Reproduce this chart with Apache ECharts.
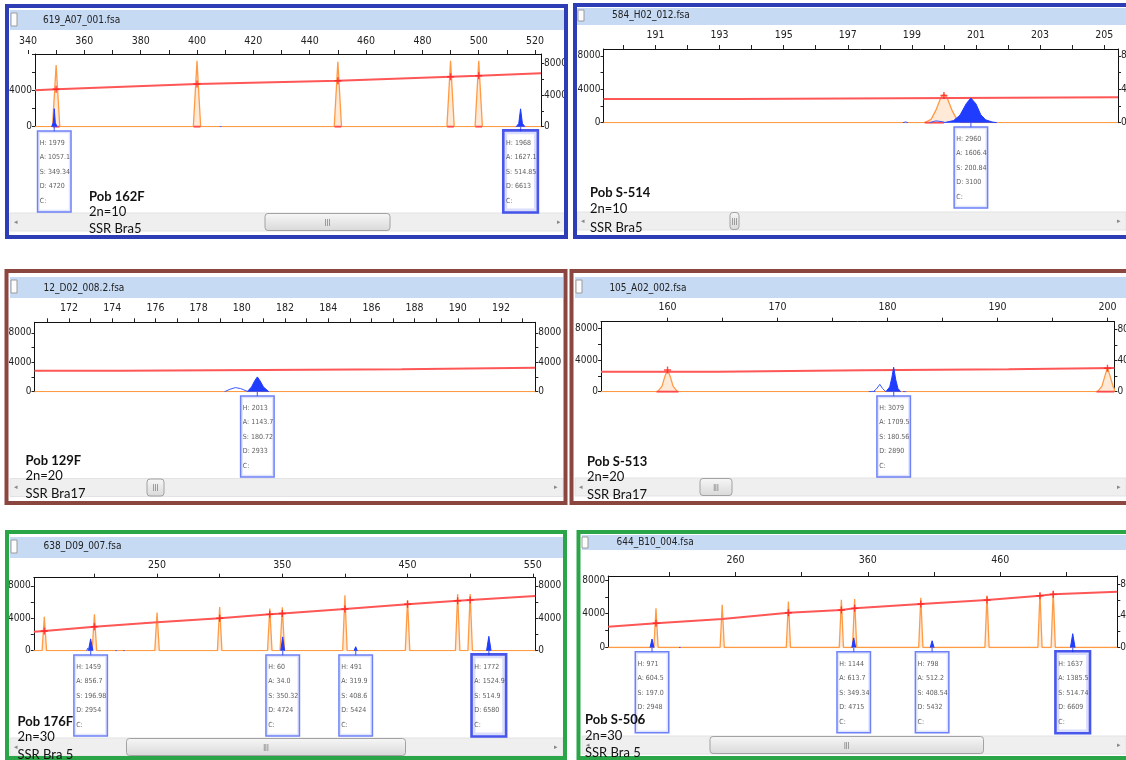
<!DOCTYPE html>
<html>
<head>
<meta charset="utf-8">
<script src="https://cdn.jsdelivr.net/npm/echarts@6/dist/echarts.min.js"></script>
<style>
  html, body { margin: 0; padding: 0; background: #fff; }
  #chart { width: 1126px; height: 760px; }
</style>
</head>
<body>
<div id="chart"></div>
<script>
// ---- data ----
const yTickValues = [0, 2000, 4000, 6000, 8000];
const yLabelValues = [0, 4000, 8000];

// panel 1
const p1File = '619_A07_001.fsa';
const p1Sample = ['Pob 162F', '2n=10', 'SSR Bra5'];
const p1Range = [342.5, 522.1];
const p1RulerTicks = [340, 350, 360, 370, 380, 390, 400, 410, 420, 430, 440, 450, 460, 470, 480, 490, 500, 510, 520];
const p1RulerLabels = [340, 360, 380, 400, 420, 440, 460, 480, 500, 520];
const p1YMax = [8000, 9170];
const p1Sizing = [[342.5, 4000], [350, 4115], [400, 4700], [450, 5060], [490, 5500], [500, 5610], [522.1, 5880]];
const p1Marks = [[350, 4115], [400, 4700], [450, 5060], [490, 5500], [500, 5610]];
const p1StdSize = [350, 400, 450, 490, 500];
const p1StdHeight = [6790, 7260, 7150, 7260, 7260];
const p1StdHalf = 1.3;
const p1StdBase = [[348.8, 351.2], [398.8, 401.2], [448.8, 451.2], [488.8, 491.2], [498.8, 501.2]];
const p1Blue = [
  [[348.4, 0], [349.0, 450], [349.34, 1979], [349.7, 450], [350.3, 0]],
  [[513.3, 0], [514.2, 350], [514.85, 1968], [515.5, 350], [516.4, 0]]
];
const p1BlueTrace = [[[408.1, 0], [408.4, 160], [408.7, 0]]];
const p1CallSize = ['349.34', '514.85'];
const p1CallHeight = [1979, 1968];
const p1CallArea = ['1057.1', '1627.1'];
const p1CallData = [4720, 6613];

// panel 2
const p2File = '584_H02_012.fsa';
const p2Sample = ['Pob S-514', '2n=10', 'SSR Bra5'];
const p2Range = [189.38, 205.43];
const p2RulerTicks = [190, 191, 192, 193, 194, 195, 196, 197, 198, 199, 200, 201, 202, 203, 204, 205];
const p2RulerLabels = [191, 193, 195, 197, 199, 201, 203, 205];
const p2YMax = [8826, 8826];
const p2Sizing = [[189.38, 2840], [193.5, 2840], [193.5, 3040], [205.43, 3040]];
const p2Marks = [[200.0, 3250]];
const p2StdShape = [
  [[199.4, 0], [199.6, 400], [199.75, 1500], [199.9, 3000], [200.0, 3400], [200.1, 3000], [200.25, 1500], [200.4, 400], [200.55, 0]]
];
const p2StdBase = [[199.4, 200.0]];
const p2Blue = [
  [[200.0, 0], [200.3, 250], [200.5, 900], [200.7, 2300], [200.84, 2960], [201.0, 2250], [201.15, 950], [201.3, 350], [201.5, 90], [201.65, 0]]
];
const p2BlueTrace = [
  [[199.55, 0], [199.75, 220], [199.95, 120], [200.05, 0]],
  [[198.72, 0], [198.8, 90], [198.88, 0]]
];
const p2CallSize = ['200.84'];
const p2CallHeight = [2960];
const p2CallArea = ['1606.4'];
const p2CallData = [3100];

// panel 3
const p3File = '12_D02_008.2.fsa';
const p3Sample = ['Pob 129F', '2n=20', 'SSR Bra17'];
const p3Range = [170.4, 193.59];
const p3RulerTicks = [171, 172, 173, 174, 175, 176, 177, 178, 179, 180, 181, 182, 183, 184, 185, 186, 187, 188, 189, 190, 191, 192, 193];
const p3RulerLabels = [172, 174, 176, 178, 180, 182, 184, 186, 188, 190, 192];
const p3YMax = [9442, 9442];
const p3Sizing = [[170.4, 2857], [174.4, 2857], [174.4, 3050], [187.4, 3050], [187.4, 3265], [193.59, 3265]];
const p3Marks = [];
const p3StdSize = [];
const p3StdHeight = [];
const p3Blue = [
  [[180.25, 0], [180.45, 650], [180.6, 1500], [180.72, 2013], [180.85, 1450], [181.0, 650], [181.25, 0]]
];
const p3BlueTrace = [
  [[179.2, 0], [179.45, 330], [179.7, 560], [179.95, 420], [180.2, 120], [180.3, 0]]
];
const p3CallSize = ['180.72'];
const p3CallHeight = [2013];
const p3CallArea = ['1143.7'];
const p3CallData = [2933];

// panel 4
const p4File = '105_A02_002.fsa';
const p4Sample = ['Pob S-513', '2n=20', 'SSR Bra17'];
const p4Range = [153.95, 200.63];
const p4RulerTicks = [160, 165, 170, 175, 180, 185, 190, 195, 200];
const p4RulerLabels = [160, 170, 180, 190, 200];
const p4YMax = [8833, 8970];
const p4Sizing = [[153.95, 2524], [164.5, 2524], [164.5, 2700], [177.8, 2700], [177.8, 2826], [191, 2826], [191, 2990], [200.63, 2990]];
const p4Marks = [[160, 2740], [200, 2950]];
const p4StdShape = [
  [[159.1, 0], [159.5, 700], [159.75, 1900], [160, 2800], [160.25, 1900], [160.5, 700], [160.9, 0]],
  [[199.1, 0], [199.5, 700], [199.75, 1900], [200, 3050], [200.25, 1900], [200.5, 700], [200.63, 350]]
];
const p4StdBase = [[159.0, 161.0], [199.0, 200.6]];
const p4Blue = [
  [[179.85, 0], [180.2, 600], [180.4, 1800], [180.56, 3079], [180.75, 1500], [180.95, 400], [181.2, 0]]
];
const p4BlueTrace = [
  [[178.7, 0], [179.0, 350], [179.3, 930], [179.55, 400], [179.85, 0]],
  [[178.3, 0], [178.6, 40], [178.9, 0]],
  [[181.4, 0], [181.55, 40], [181.7, 0]]
];
const p4CallSize = ['180.56'];
const p4CallHeight = [3079];
const p4CallArea = ['1709.5'];
const p4CallData = [2890];

// panel 5
const p5File = '638_D09_007.fsa';
const p5Sample = ['Pob 176F', '2n=30', 'SSR Bra 5'];
const p5Range = [151.6, 552];
const p5RulerTicks = [200, 250, 300, 350, 400, 450, 500, 550];
const p5RulerLabels = [250, 350, 450, 550];
const p5YMax = [9012, 9012];
const p5Sizing = [[151.6, 2330], [160, 2430], [200, 2950], [250, 3500], [300, 4000], [340, 4490], [350, 4600], [400, 5150], [450, 5730], [490, 6170], [500, 6260], [552, 6750]];
const p5Marks = [[160, 2430], [200, 2950], [300, 4000], [340, 4490], [350, 4600], [400, 5150], [450, 5730], [490, 6170], [500, 6260]];
const p5StdSize = [160, 200, 250, 300, 340, 350, 400, 450, 490, 500];
const p5StdHeight = [4200, 4500, 4700, 5400, 5200, 5350, 6850, 6250, 7000, 7000];
const p5StdHalf = 1.8;
const p5Blue = [
  [[195.2, 0], [196.98, 1459], [198.8, 0]],
  [[348.8, 0], [350.32, 1700], [351.8, 0]],
  [[407.3, 0], [408.6, 491], [409.9, 0]],
  [[513.1, 0], [514.9, 1772], [516.7, 0]]
];
const p5BlueTrace = [
  [[193.8, 0], [194.6, 300], [195.4, 0]],
  [[216.8, 0], [217.4, 110], [218.0, 0]],
  [[222.9, 0], [223.5, 110], [224.1, 0]]
];
const p5CallSize = ['196.98', '350.32', '408.6', '514.9'];
const p5CallHeight = [1459, 60, 491, 1772];
const p5CallArea = ['856.7', '34.0', '319.9', '1524.9'];
const p5CallData = [2954, 4724, 5424, 6580];

// panel 6
const p6File = '644_B10_004.fsa';
const p6Sample = ['Pob S-506', '2n=30', 'SSR Bra 5'];
const p6Range = [163.9, 548.4];
const p6RulerTicks = [210, 260, 310, 360, 410, 460, 510];
const p6RulerLabels = [260, 360, 460];
const p6YMax = [8474, 9050];
const p6Sizing = [[163.9, 2465], [200, 2870], [250, 3380], [300, 4120], [340, 4440], [350, 4640], [400, 5150], [450, 5630], [490, 6140], [500, 6300], [548.4, 6613]];
const p6Marks = [[200, 2870], [300, 4120], [340, 4440], [350, 4640], [400, 5150], [450, 5630], [490, 6140], [500, 6300]];
const p6StdSize = [200, 250, 300, 340, 350, 400, 450, 490, 500];
const p6StdHeight = [4650, 5050, 5450, 5650, 5750, 5900, 6150, 6500, 6700];
const p6StdHalf = 1.6;
const p6Blue = [
  [[195.5, 0], [197.0, 1000], [198.5, 0]],
  [[347.9, 0], [349.34, 1144], [350.8, 0]],
  [[407.1, 0], [408.54, 800], [410.0, 0]],
  [[513.0, 0], [514.74, 1637], [516.5, 0]]
];
const p6BlueTrace = [[[217.4, 0], [218.0, 160], [218.6, 0]]];
const p6CallSize = ['197.0', '349.34', '408.54', '514.74'];
const p6CallHeight = [971, 1144, 798, 1637];
const p6CallArea = ['604.5', '613.7', '512.2', '1385.5'];
const p6CallData = [2948, 4715, 5432, 6609];

// ---- layout of each window (pixels) ----
const BLUE = '#2d3db6', BROWN = '#8c4640', GREEN = '#2aa548';
const panels = [
  { file: p1File, sample: p1Sample, range: p1Range, ticks: p1RulerTicks, labels: p1RulerLabels, yMax: p1YMax,
    sizing: p1Sizing, marks: p1Marks, stdSize: p1StdSize, stdHeight: p1StdHeight, stdHalf: p1StdHalf, stdBase: p1StdBase,
    blue: p1Blue, trace: p1BlueTrace, call: [p1CallSize, p1CallHeight, p1CallArea, p1CallData],
    L: { frame: [7, 6, 559, 231], color: BLUE, bar: [10, 10, 556, 20], title: [43, 20], check: [11, 13, 13],
         plot: [35, 54, 541, 126.7], rulerMargin: 7, scroll: [10, 213, 556, 18], thumb: [265, 390],
         sample: [89, 197, 212, 229], selected: 1, hideLeftMax: true } },
  { file: p2File, sample: p2Sample, range: p2Range, ticks: p2RulerTicks, labels: p2RulerLabels, yMax: p2YMax,
    sizing: p2Sizing, marks: p2Marks, stdShape: p2StdShape, stdBase: p2StdBase,
    blue: p2Blue, trace: p2BlueTrace, call: [p2CallSize, p2CallHeight, p2CallArea, p2CallData],
    L: { frame: [575, 5, 570, 232], color: BLUE, bar: [577, 8, 549, 17], title: [612, 15], check: [578, 10, 11],
         plot: [603.5, 49, 1118, 122.7], rulerMargin: 8.5, scroll: [577, 212, 549, 18], thumb: [730, 739],
         sample: [590, 193, 209, 228], selected: -1 } },
  { file: p3File, sample: p3Sample, range: p3Range, ticks: p3RulerTicks, labels: p3RulerLabels, yMax: p3YMax,
    sizing: p3Sizing, marks: p3Marks, stdSize: p3StdSize, stdHeight: p3StdHeight, stdHalf: 1,
    blue: p3Blue, trace: p3BlueTrace, call: [p3CallSize, p3CallHeight, p3CallArea, p3CallData],
    L: { frame: [6.5, 271, 559, 232], color: BROWN, bar: [10, 277, 553, 21], title: [43.6, 288.5], check: [11, 280, 13],
         plot: [34.5, 322.3, 535.3, 391.7], rulerMargin: 9, scroll: [10, 478.5, 553, 18], thumb: [147, 164],
         sample: [25.5, 461, 476, 494], selected: -1 } },
  { file: p4File, sample: p4Sample, range: p4Range, ticks: p4RulerTicks, labels: p4RulerLabels, yMax: p4YMax,
    sizing: p4Sizing, marks: p4Marks, stdShape: p4StdShape, stdBase: p4StdBase,
    blue: p4Blue, trace: p4BlueTrace, call: [p4CallSize, p4CallHeight, p4CallArea, p4CallData],
    L: { frame: [571.5, 271, 570, 232], color: BROWN, bar: [575, 277, 551, 21], title: [609.4, 288.5], check: [576, 280, 13],
         plot: [601, 321.7, 1114.4, 391.7], rulerMargin: 9, scroll: [575, 478, 551, 18], thumb: [700, 732],
         sample: [587, 462, 477, 495], selected: -1 } },
  { file: p5File, sample: p5Sample, range: p5Range, ticks: p5RulerTicks, labels: p5RulerLabels, yMax: p5YMax,
    sizing: p5Sizing, marks: p5Marks, stdSize: p5StdSize, stdHeight: p5StdHeight, stdHalf: p5StdHalf,
    blue: p5Blue, trace: p5BlueTrace, call: [p5CallSize, p5CallHeight, p5CallArea, p5CallData],
    L: { frame: [7, 532, 558, 226], color: GREEN, bar: [10, 537, 553, 21], title: [43.6, 546], check: [11, 540, 13],
         plot: [33.8, 577.7, 535.3, 650.7], rulerMargin: 7, scroll: [10, 738, 553, 18], thumb: [126.5, 405.5],
         sample: [17.5, 722, 737, 755], selected: 3 } },
  { file: p6File, sample: p6Sample, range: p6Range, ticks: p6RulerTicks, labels: p6RulerLabels, yMax: p6YMax,
    sizing: p6Sizing, marks: p6Marks, stdSize: p6StdSize, stdHeight: p6StdHeight, stdHalf: p6StdHalf,
    blue: p6Blue, trace: p6BlueTrace, call: [p6CallSize, p6CallHeight, p6CallArea, p6CallData],
    L: { frame: [578.5, 532, 570, 226], color: GREEN, bar: [582, 535, 544, 15], title: [616.5, 542], check: [582, 537, 11],
         plot: [608.2, 576, 1117.3, 647.5], rulerMargin: 10.5, scroll: [582, 736, 544, 18], thumb: [710, 983.5],
         sample: [585, 720, 736, 753], selected: 3 } }
];

const NARROW = "'Liberation Sans Narrow','DejaVu Sans Condensed','Arial Narrow','Liberation Sans',sans-serif";
const SAMPLE_FONT = "Lato,'Open Sans',sans-serif";
const PLUS = 'path://M4,0L6,0L6,4L10,4L10,6L6,6L6,10L4,10L4,6L0,6L0,4L4,4Z';
const plain = function (v) { return String(v); };

const grids = [], xAxes = [], yAxes = [], series = [], graphics = [];

function line(xi, yi, data, color, width, area, z) {
  return {
    type: 'line', xAxisIndex: xi, yAxisIndex: yi, data: data, symbol: 'none', showSymbol: false,
    lineStyle: { color: color, width: width }, itemStyle: { color: color },
    areaStyle: area ? { color: area.color, opacity: area.opacity } : undefined,
    z: z, silent: true
  };
}

panels.forEach(function (p, i) {
  const L = p.L;
  const l = L.plot[0], t = L.plot[1], r = L.plot[2], b = L.plot[3];
  const ppu = (r - l) / (p.range[1] - p.range[0]);
  const rulerMin = Math.min(p.range[0], p.ticks[0]);
  const rl = l - (p.range[0] - rulerMin) * ppu;
  const gi = grids.length;

  grids.push({ left: l, top: t, width: r - l, height: b - t, containLabel: false, outerBoundsMode: 'none' });
  grids.push({ left: rl, top: t, width: r - rl, height: 2, containLabel: false, outerBoundsMode: 'none' });

  const xi = xAxes.length;
  xAxes.push({
    gridIndex: gi, type: 'value', min: p.range[0], max: p.range[1], position: 'top',
    axisLine: { show: true, onZero: false, lineStyle: { color: '#111', width: 1 } },
    axisTick: { show: false }, axisLabel: { show: false }, splitLine: { show: false }
  });
  xAxes.push({
    gridIndex: gi + 1, type: 'value', min: rulerMin, max: p.range[1], position: 'top',
    axisLine: { show: false, onZero: false },
    axisTick: { show: true, length: 4, customValues: p.ticks, lineStyle: { color: '#222', width: 1 } },
    axisLabel: { show: true, customValues: p.labels, formatter: plain, margin: L.rulerMargin,
                 fontSize: 10.5, fontFamily: NARROW, color: '#222' },
    splitLine: { show: false }
  });

  const yi = yAxes.length;
  const axisY = function (pos, max, labels) {
    return {
      gridIndex: gi, type: 'value', min: 0, max: max, position: pos,
      axisLine: { show: true, onZero: false, lineStyle: { color: '#111', width: 1 } },
      axisTick: { show: true, length: 3, customValues: yTickValues, lineStyle: { color: '#222' } },
      axisLabel: { show: true, customValues: labels, formatter: plain, margin: 3,
                   fontSize: 10, fontFamily: NARROW, color: '#222' },
      splitLine: { show: false }
    };
  };
  yAxes.push(axisY('left', p.yMax[0], L.hideLeftMax ? yLabelValues.slice(0, 2) : yLabelValues));
  yAxes.push(axisY('right', p.yMax[1], yLabelValues));
  yAxes.push({ gridIndex: gi + 1, type: 'value', min: 0, max: 1, show: false });

  // size standard trace (orange) with its baseline
  const std = [[p.range[0], 0]];
  if (p.stdShape) {
    p.stdShape.forEach(function (s) { s.forEach(function (pt) { std.push(pt); }); });
  } else {
    p.stdSize.forEach(function (x, k) {
      std.push([x - p.stdHalf, 0], [x, p.stdHeight[k]], [x + p.stdHalf, 0]);
    });
  }
  std.push([p.range[1], 0]);
  series.push(line(xi, yi, std, '#ff9a45', 1.3, { color: '#ffc89a', opacity: 0.4 }, 2));

  // peak bounds in red
  (p.stdBase || []).forEach(function (sb) {
    series.push(line(xi, yi, [[sb[0], 0], [sb[1], 0]], '#ff4a4a', 2, null, 3));
  });

  // sizing curve
  series.push(line(xi, yi, p.sizing, '#ff5656', 2, null, 3));
  series.push({
    type: 'scatter', xAxisIndex: xi, yAxisIndex: yi, data: p.marks, symbol: PLUS, symbolSize: 7,
    itemStyle: { color: '#ff2020' }, z: 5, silent: true
  });

  // sample dye (blue)
  p.blue.forEach(function (pk) {
    series.push(line(xi, yi, pk, '#1f3cff', 1, { color: '#1f3cff', opacity: 1 }, 4));
  });
  p.trace.forEach(function (pk) {
    series.push(line(xi, yi, pk, '#3d5aff', 1, null, 4));
  });

  // allele call boxes
  const cs = p.call[0], ch = p.call[1], ca = p.call[2], cd = p.call[3];
  const callData = cs.map(function (s, k) {
    const item = { value: [parseFloat(s), 0] };
    if (k === L.selected) item.label = { borderWidth: 2.6, borderColor: '#1a2ce6' };
    return item;
  });
  series.push({
    type: 'scatter', xAxisIndex: xi, yAxisIndex: yi, data: callData, clip: false,
    symbol: 'rect', symbolSize: [1.3, 5], symbolOffset: [0, 2.5],
    itemStyle: { color: '#3f57f2' }, z: 6, silent: true,
    label: {
      show: true, position: 'bottom', distance: 0, align: 'left', offset: [-16, 0],
      formatter: function (prm) {
        const k = prm.dataIndex;
        return 'H: ' + ch[k] + '\nA: ' + ca[k] + '\nS: ' + cs[k] + '\nD: ' + cd[k] + '\nC:';
      },
      fontSize: 7, lineHeight: 14.5, color: '#333', fontFamily: NARROW,
      backgroundColor: '#fff', borderColor: '#4a62f4', borderWidth: 1.5, padding: [4, 1, 3, 1.5], width: 29.5
    }
  });

  // window chrome
  const f = L.frame;
  graphics.push({ type: 'rect', z: 0, silent: true, shape: { x: L.bar[0], y: L.bar[1], width: L.bar[2], height: L.bar[3] },
    style: { fill: '#c6daf4' } });
  graphics.push({ type: 'rect', z: 1, silent: true, shape: { x: L.check[0], y: L.check[1], width: 6, height: L.check[2] },
    style: { fill: '#fcfcfc', stroke: '#9c9c9c', lineWidth: 1 } });
  graphics.push({ type: 'text', z: 1, silent: true,
    style: { text: p.file, x: L.title[0], y: L.title[1], font: '10px ' + NARROW, fill: '#222',
             textVerticalAlign: 'middle', verticalAlign: 'middle' } });
  const sc = L.scroll;
  graphics.push({ type: 'rect', z: 0, silent: true, shape: { x: sc[0], y: sc[1], width: sc[2], height: sc[3] },
    style: { fill: '#efefef', stroke: '#e3e3e3', lineWidth: 1 } });
  graphics.push({ type: 'rect', z: 1, silent: true,
    shape: { x: L.thumb[0], y: sc[1] + 0.5, width: L.thumb[1] - L.thumb[0], height: sc[3] - 1, r: 3 },
    style: { fill: new echarts.graphic.LinearGradient(0, 0, 0, 1, [{ offset: 0, color: '#f7f7f7' }, { offset: 1, color: '#d9d9d9' }]),
             stroke: '#a2a2a2', lineWidth: 1 } });
  graphics.push({ type: 'text', z: 2, silent: true,
    style: { text: '|||', x: (L.thumb[0] + L.thumb[1]) / 2, y: sc[1] + sc[3] / 2, font: '7px sans-serif', fill: '#666',
             textAlign: 'center', align: 'center', textVerticalAlign: 'middle', verticalAlign: 'middle' } });
  graphics.push({ type: 'text', z: 2, silent: true,
    style: { text: '\u25C2', x: sc[0] + 4, y: sc[1] + sc[3] / 2, font: '7px "DejaVu Sans"', fill: '#888',
             textVerticalAlign: 'middle', verticalAlign: 'middle' } });
  graphics.push({ type: 'text', z: 2, silent: true,
    style: { text: '\u25B8', x: Math.min(sc[0] + sc[2] - 9, 1118), y: sc[1] + sc[3] / 2, font: '7px "DejaVu Sans"', fill: '#888',
             textVerticalAlign: 'middle', verticalAlign: 'middle' } });
  p.sample.forEach(function (s, k) {
    graphics.push({ type: 'text', z: 100, silent: true,
      style: { text: s, x: L.sample[0], y: L.sample[k + 1], font: (k === 0 ? 'bold ' : '') + '13px ' + SAMPLE_FONT,
               fill: '#111', textVerticalAlign: 'middle', verticalAlign: 'middle' } });
  });
  graphics.push({ type: 'rect', z: 90, silent: true, shape: { x: f[0], y: f[1], width: f[2], height: f[3] },
    style: { fill: 'none', stroke: L.color, lineWidth: 4 } });
});

const chart = echarts.init(document.getElementById('chart'), null, { renderer: 'canvas' });
chart.setOption({
  animation: false,
  backgroundColor: '#ffffff',
  grid: grids,
  xAxis: xAxes,
  yAxis: yAxes,
  series: series,
  graphic: { elements: graphics }
});
</script>
</body>
</html>
